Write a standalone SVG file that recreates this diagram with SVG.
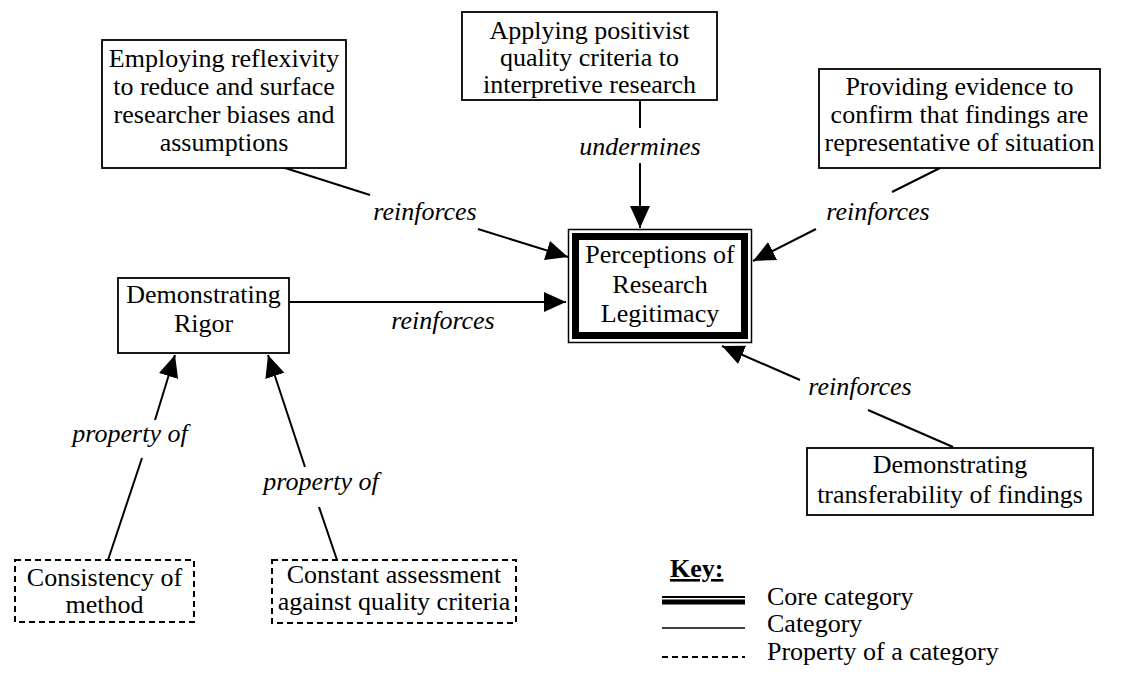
<svg xmlns="http://www.w3.org/2000/svg" width="1133" height="675" viewBox="0 0 1133 675">
  <style>
    .box { fill: #fff; stroke: #000; stroke-width: 1.8; }
    .prop { fill: #fff; stroke: #000; stroke-width: 2; stroke-dasharray: 6 4; }
    .t { font-family: "Liberation Serif", "Times New Roman", serif; font-size: 26px; fill: #000; text-anchor: middle; }
    .lbl { font-family: "Liberation Serif", "Times New Roman", serif; font-size: 26px; font-style: italic; fill: #000; text-anchor: middle; }
    .kt { font-family: "Liberation Serif", "Times New Roman", serif; font-size: 26px; fill: #000; }
    .edge { stroke: #000; stroke-width: 2; fill: none; }
    .arrow { marker-end: url(#head); }
  </style>
  <defs>
    <marker id="head" markerUnits="userSpaceOnUse" markerWidth="24" markerHeight="21" refX="22" refY="10" orient="auto">
      <path d="M0,0 L22,10 L0,20 z" fill="#000"/>
    </marker>
  </defs>
  <rect width="1133" height="675" fill="#fff"/>

  <!-- connectors -->
  <g id="connectors">
    <!-- reflexivity -> legitimacy -->
    <line class="edge" x1="282" y1="167" x2="370" y2="195"/>
    <line class="edge arrow" x1="478" y1="229" x2="568" y2="257"/>
    <text class="lbl" x="425" y="220">reinforces</text>
    <!-- positivist criteria -> legitimacy -->
    <line class="edge" x1="640" y1="100" x2="640" y2="128"/>
    <line class="edge arrow" x1="640" y1="163" x2="640" y2="228"/>
    <text class="lbl" x="640" y="155">undermines</text>
    <!-- evidence -> legitimacy -->
    <line class="edge" x1="940" y1="168" x2="892" y2="192"/>
    <line class="edge arrow" x1="816" y1="229" x2="753" y2="261"/>
    <text class="lbl" x="878" y="220">reinforces</text>
    <!-- rigor -> legitimacy -->
    <line class="edge arrow" x1="289" y1="302" x2="566" y2="302"/>
    <text class="lbl" x="443" y="329">reinforces</text>
    <!-- transferability -> legitimacy -->
    <line class="edge" x1="953" y1="447" x2="868" y2="410"/>
    <line class="edge arrow" x1="800" y1="380" x2="722" y2="346"/>
    <text class="lbl" x="860" y="395">reinforces</text>
    <!-- consistency -> rigor -->
    <line class="edge" x1="108" y1="560" x2="142" y2="458"/>
    <line class="edge arrow" x1="155" y1="420" x2="175" y2="355"/>
    <text class="lbl" x="130" y="442">property of</text>
    <!-- constant assessment -> rigor -->
    <line class="edge" x1="337" y1="560" x2="319" y2="507"/>
    <line class="edge arrow" x1="305" y1="467" x2="268" y2="355"/>
    <text class="lbl" x="321" y="490">property of</text>
  </g>

  <!-- core category -->
  <g id="legitimacy">
    <rect x="568.5" y="229.5" width="183" height="113" fill="#fff" stroke="#000" stroke-width="1.5"/>
    <rect x="575.5" y="236.5" width="169" height="99" fill="#fff" stroke="#000" stroke-width="7"/>
    <text class="t" x="660" y="263">Perceptions of</text>
    <text class="t" x="660" y="293">Research</text>
    <text class="t" x="660" y="322">Legitimacy</text>
  </g>

  <g id="reflexivity">
    <rect class="box" x="102" y="40" width="244" height="128"/>
    <text class="t" x="224" y="67">Employing reflexivity</text>
    <text class="t" x="224" y="95">to reduce and surface</text>
    <text class="t" x="224" y="123">researcher biases and</text>
    <text class="t" x="224" y="151">assumptions</text>
  </g>

  <g id="positivist">
    <rect class="box" x="462" y="12" width="255" height="88"/>
    <text class="t" x="589.5" y="39">Applying positivist</text>
    <text class="t" x="589.5" y="66">quality criteria to</text>
    <text class="t" x="589.5" y="93">interpretive research</text>
  </g>

  <g id="evidence">
    <rect class="box" x="819" y="69" width="281" height="99"/>
    <text class="t" x="959.5" y="95">Providing evidence to</text>
    <text class="t" x="959.5" y="123">confirm that findings are</text>
    <text class="t" x="959.5" y="151">representative of situation</text>
  </g>

  <g id="rigor">
    <rect class="box" x="118" y="278" width="171" height="75"/>
    <text class="t" x="203.5" y="303">Demonstrating</text>
    <text class="t" x="203.5" y="332">Rigor</text>
  </g>

  <g id="transferability">
    <rect class="box" x="807" y="448" width="286" height="67"/>
    <text class="t" x="950" y="473">Demonstrating</text>
    <text class="t" x="950" y="503">transferability of findings</text>
  </g>

  <g id="consistency">
    <rect class="prop" x="15" y="560" width="179" height="62"/>
    <text class="t" x="104.5" y="586">Consistency of</text>
    <text class="t" x="104.5" y="613">method</text>
  </g>

  <g id="assessment">
    <rect class="prop" x="272" y="560" width="244" height="63"/>
    <text class="t" x="394" y="583">Constant assessment</text>
    <text class="t" x="394" y="610">against quality criteria</text>
  </g>

  <!-- legend -->
  <g id="key">
    <text class="kt" x="670" y="577" font-weight="bold" text-decoration="underline">Key:</text>
    <line x1="662" y1="597" x2="745" y2="597" stroke="#000" stroke-width="2"/>
    <line x1="662" y1="602" x2="745" y2="602" stroke="#000" stroke-width="5"/>
    <text class="kt" x="767" y="605">Core category</text>
    <line x1="662" y1="628" x2="745" y2="628" stroke="#000" stroke-width="1.5"/>
    <text class="kt" x="767" y="632">Category</text>
    <line x1="662" y1="657" x2="745" y2="657" stroke="#000" stroke-width="2" stroke-dasharray="6 4"/>
    <text class="kt" x="767" y="660">Property of a category</text>
  </g>
</svg>
